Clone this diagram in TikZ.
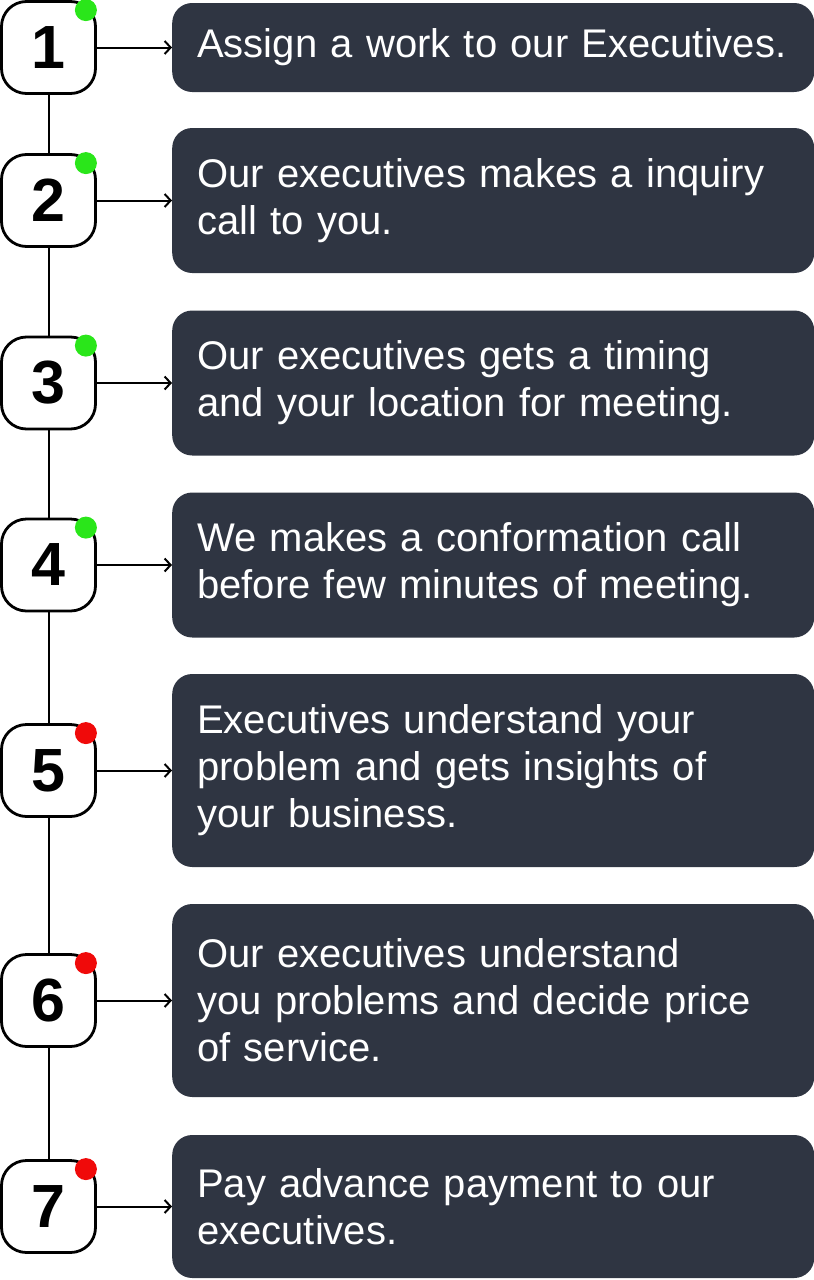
\documentclass[tikz,border=0pt]{standalone}
\usepackage{fontspec}
\setmainfont{Liberation Sans}
\usetikzlibrary{positioning, arrows.meta}
\definecolor{boxgray}{HTML}{2F3542}
\definecolor{dotgreen}{HTML}{2AE61A}
\definecolor{dotred}{HTML}{F00A0A}

\begin{document}
\begin{tikzpicture}[x=1pt, y=-1pt, >={Straight Barb[length=6pt, width=13pt]},
    num/.style={draw, line width=2.8pt, rounded corners=25pt, minimum width=94pt, minimum height=92pt, inner sep=0pt, font=\fontsize{61}{61}\selectfont\bfseries},
    info/.style={fill=boxgray, rounded corners=20pt, text=white, text width=592pt, inner xsep=25pt, inner ysep=0pt, align=left, anchor=west, font=\fontsize{40}{47}\selectfont},
    dot/.style={circle, inner sep=0pt, minimum size=22pt}]
    \useasboundingbox (0,0) rectangle (814,1280);
    \foreach \i/\y/\h/\c/\t in {
        1/47.5/89/dotgreen/{Assign a work to our Executives.},
        2/200.5/145/dotgreen/{Our executives makes a inquiry\\call to you.},
        3/383/145/dotgreen/{Our executives gets a timing\\and your location for meeting.},
        4/565/145/dotgreen/{We makes a conformation call\\before few minutes of meeting.},
        5/770.5/193/dotred/{Executives understand your\\problem and gets insights of\\your business.},
        6/1000.5/193/dotred/{Our executives understand\\you problems and decide price\\of service.},
        7/1206.5/143/dotred/{Pay advance payment to our\\executives.}} {
        \node[num] (s\i) at (48.5,\y) {\i};
        \node[dot, fill=\c] (d\i) at ([xshift=-11pt,yshift=-10pt]s\i.north east) {};
        \node[info, minimum height=\h pt] (t\i) at (172,\y) {\t};
        \draw[->, line width=2pt] (s\i.east) -- (t\i.west);
    }
    \foreach \i [evaluate=\i as \j using int(\i+1)] in {1,...,6}
        \draw[line width=2pt] (s\i.south) -- (s\j.north);
\end{tikzpicture}
\end{document}
